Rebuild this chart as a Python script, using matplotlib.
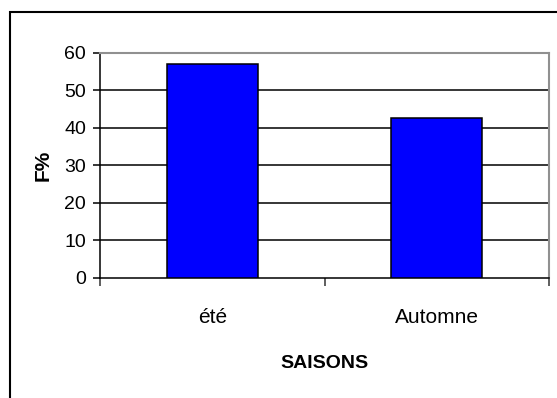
import matplotlib
matplotlib.use("Agg")
import matplotlib.pyplot as plt
from matplotlib.patches import Rectangle

# Seasonal frequencies (%)
saisons = ["été", "Automne"]
frequences = [57.0, 42.5]
yticks = [0, 10, 20, 30, 40, 50, 60]

plt.rcParams['font.family'] = ['Liberation Sans', 'DejaVu Sans']

fig = plt.figure(figsize=(5.57, 3.98), dpi=100)
ax = fig.add_axes([100/557, 120.3/398, 449.3/557, 225/398])

x = range(len(saisons))
ax.bar(x, frequences, width=0.405, color="#0000ff", edgecolor="black",
       linewidth=1.1, zorder=3)

ax.set_xlim(-0.5, len(saisons) - 0.5)
ax.set_ylim(0, 60)
ax.set_yticks(yticks)
ax.set_yticklabels([str(t) for t in yticks], fontsize=14)
for t in yticks[1:-1]:
    ax.axhline(t, color="black", linewidth=1.1, zorder=1)

# category boundaries as major ticks, names as minor ticks
ax.set_xticks([-0.5, 0.5, 1.5])
ax.set_xticklabels([])
ax.set_xticks(list(x), minor=True)
ax.set_xticklabels(saisons, minor=True, fontsize=15)
ax.tick_params(axis="x", which="major", direction="out", length=6, width=1.1, color="#333333")
ax.tick_params(axis="x", which="minor", length=0, pad=22)
ax.tick_params(axis="y", direction="out", length=5, width=1.1, pad=5)

for side in ["left", "bottom"]:
    ax.spines[side].set_color("black")
    ax.spines[side].set_linewidth(1.1)
for side in ["top", "right"]:
    ax.spines[side].set_color("#909090")
    ax.spines[side].set_linewidth(1.5)

ax.set_xlabel("SAISONS", fontsize=14, fontweight="bold", labelpad=20)
ax.set_ylabel("F%", fontsize=15, fontweight="bold", labelpad=8)

# outer chart frame
fig.patches.append(Rectangle((9.5/557, -0.1), 1.2, (398 - 11.5)/398 + 0.1,
                             transform=fig.transFigure, fill=False,
                             edgecolor="black", linewidth=1.5))

fig.savefig("out.png", dpi=100)
